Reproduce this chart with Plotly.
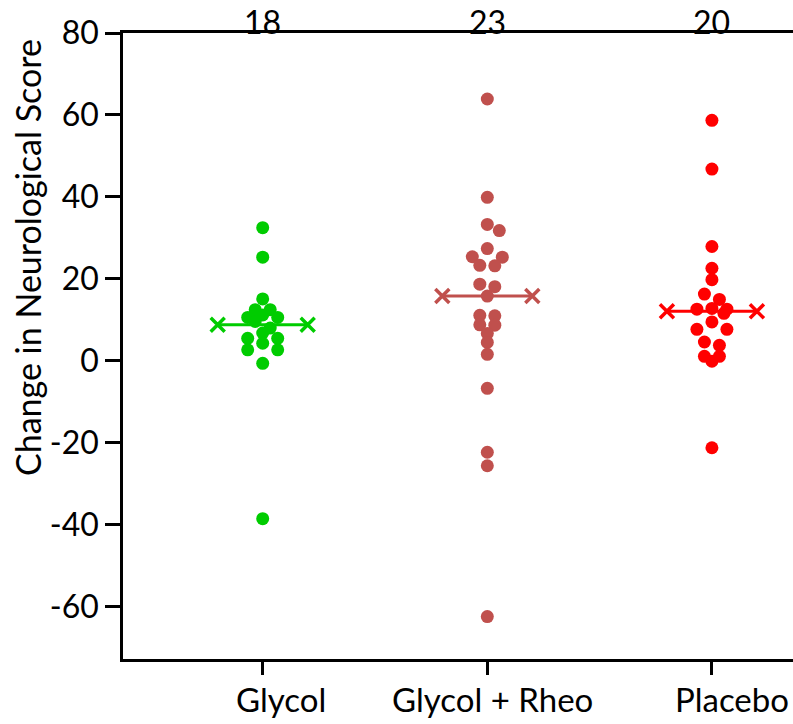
import numpy as np
import plotly.graph_objects as go

# ---------------- data ----------------
categories = ["Glycol", "Glycol + Rheo", "Placebo"]

glycol = [32.5, 25.3, 15.1, 12.5, 12.5, 11.2, 10.6, 10.6, 9.6, 8.0,
          6.8, 5.5, 5.5, 4.3, 2.7, 2.7, -0.6, -38.5]
glycol_rheo = [63.9, 39.9, 33.3, 31.8, 27.4, 25.4, 25.3, 23.3, 23.2, 18.7,
               18.1, 15.8, 11.1, 11.0, 8.8, 8.7, 6.7, 4.5, 1.6, -6.7,
               -22.3, -25.6, -62.4]
placebo = [58.7, 46.8, 27.9, 22.6, 19.8, 16.3, 15.0, 12.8, 12.6, 12.6,
           11.6, 9.5, 7.7, 7.7, 4.6, 3.8, 1.1, 1.1, -0.1, -21.2]

y_tick_values = [-60, -40, -20, 0, 20, 40, 60, 80]
y_tick_labels = ["-60", "-40", "-20", "0", "20", "40", "60", "80"]

series = [glycol, glycol_rheo, placebo]
colors = ["#00CC00", "#C0504D", "#FF0000"]

# ---------------- layout geometry ----------------
W, H = 793, 724
ML, MR, MT, MB = 123, 0, 33, 65
X_RANGE = [-0.622, 2.361]
Y_RANGE = [-72.75, 80]
plot_w = W - ML - MR
plot_h = H - MT - MB
px_per_x = plot_w / (X_RANGE[1] - X_RANGE[0])
px_per_y = plot_h / (Y_RANGE[1] - Y_RANGE[0])
MARKER = 13
FONT = "Lato, 'Open Sans', sans-serif"


def row_scatter_offsets(vals, bin_width, spacing_px, min_gap_px=9.0):
    """Column-scatter layout: values falling in the same bin share a row and
    are spread symmetrically around the category centre. A lone point that
    would sit almost on top of the previous row's point is nudged aside.
    Returns px offsets."""
    vals = np.asarray(vals, dtype=float)
    bins = np.floor(vals / bin_width)
    offs = np.zeros(len(vals))
    placed = []
    for b in sorted(np.unique(bins), reverse=True):
        idx = np.where(bins == b)[0]
        idx = idx[np.argsort(-vals[idx], kind="stable")]
        n = len(idx)
        if n % 2 == 1:
            slots = [0]
            j = 1
            while len(slots) < n:
                slots += [-j, j]
                j += 1
        else:
            slots = []
            j = 0.5
            while len(slots) < n:
                slots += [-j, j]
                j += 1
        row = []
        for i, s in zip(idx, slots[:n]):
            x = s * spacing_px
            y = vals[i] * px_per_y
            if n == 1:
                for yy, xx in placed:
                    if abs(xx - x) < 1 and abs(yy - y) < min_gap_px:
                        x = xx + 0.8 * spacing_px
                        break
            offs[i] = x
            row.append((y, x))
        placed = row
    return offs


fig = go.Figure()

for k, (vals, col) in enumerate(zip(series, colors)):
    med = float(np.median(vals))
    half = 45 / px_per_x
    # median line with x end markers
    fig.add_trace(go.Scatter(
        x=[k - half, k + half], y=[med, med], mode="lines+markers",
        line=dict(color=col, width=3),
        marker=dict(symbol="x-thin", size=14, line=dict(color=col, width=3.5), color=col),
        showlegend=False, hoverinfo="skip"))
    offs = row_scatter_offsets(vals, 2.5, 15.0) / px_per_x
    fig.add_trace(go.Scatter(
        x=k + offs, y=vals, mode="markers",
        marker=dict(symbol="circle", size=MARKER, color=col, line=dict(width=0)),
        showlegend=False, name=categories[k]))

annotations = []
# counts above the plot
for k, vals in enumerate(series):
    annotations.append(dict(
        x=k, y=1, xref="x", yref="paper", text=str(len(vals)),
        showarrow=False, yanchor="bottom", yshift=-10,
        font=dict(family=FONT, size=32, color="black")))
# category labels
label_shift = [18, 5, 20]
for k, name in enumerate(categories):
    annotations.append(dict(
        x=k, y=0, xref="x", yref="paper", text=name, showarrow=False,
        xanchor="center", yanchor="top", xshift=label_shift[k], yshift=-18,
        font=dict(family=FONT, size=33, color="black")))
# y-axis title
annotations.append(dict(
    x=(27 - ML) / plot_w, y=(H - MB - 258) / plot_h, xref="paper", yref="paper",
    text="Change in Neurological Score", textangle=-90, showarrow=False,
    xanchor="center", yanchor="middle",
    font=dict(family=FONT, size=34, color="black")))

fig.update_layout(
    width=W, height=H,
    margin=dict(l=ML, r=MR, t=MT, b=MB, pad=0),
    paper_bgcolor="white", plot_bgcolor="white",
    annotations=annotations,
    xaxis=dict(range=X_RANGE, tickvals=[0, 1, 2], showticklabels=False,
               ticks="outside", ticklen=13, tickwidth=2.5, tickcolor="black",
               showline=True, linewidth=2.5, linecolor="black", mirror=True,
               showgrid=False, zeroline=False, fixedrange=True),
    yaxis=dict(range=Y_RANGE, tickvals=y_tick_values, ticktext=y_tick_labels,
               ticks="outside", ticklen=15, tickwidth=2.5, tickcolor="black",
               showline=True, linewidth=2.5, linecolor="black", mirror=False,
               showgrid=False, zeroline=False, fixedrange=True, automargin=False,
               tickfont=dict(family=FONT, size=32, color="black")),
    font=dict(family=FONT, color="black"),
)

fig.write_html("out.html",
               config={"displayModeBar": False, "staticPlot": False},
               post_script="document.body.style.margin='0px';document.body.style.padding='0px';")
